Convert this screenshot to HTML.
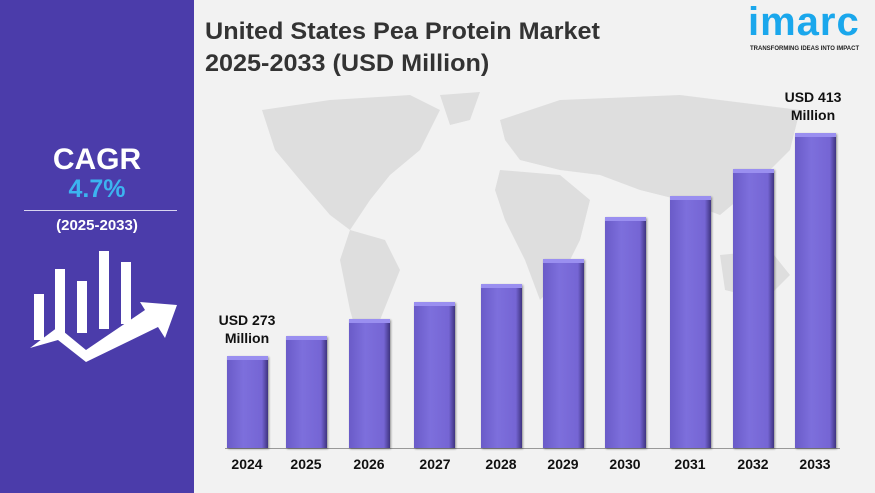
<!DOCTYPE html><html><head><style>
body{margin:0;width:875px;height:493px;overflow:hidden;background:#f2f2f2;font-family:"Liberation Sans",Arial,sans-serif;position:relative}
.l{position:absolute;left:0;top:0;width:194px;height:493px;background:#4b3caa}
.t{position:absolute;font-weight:bold}
.bar{position:absolute;width:41px;background:linear-gradient(90deg,#6a5bc8,#7d6fdc 40%,#7565d4 85%,#3f3480);border-top:4px solid #9a8ff0;box-shadow:1px 1px 2px rgba(0,0,0,.4)}
.y{position:absolute;top:456px;font-size:14px;font-weight:bold;color:#111;width:50px;text-align:center}
</style></head><body>
<div class="l"></div>
<div class="t" style="left:0;width:194px;text-align:center;top:143px;color:#fff;font-size:30px">CAGR</div>
<div class="t" style="left:0;width:194px;text-align:center;top:175px;color:#3cb4f0;font-size:25px">4.7%</div>
<div style="position:absolute;left:24px;top:210px;width:153px;height:1px;background:#d8d4f0"></div>
<div class="t" style="left:0;width:194px;text-align:center;top:217px;color:#fff;font-size:15px">(2025-2033)</div>
<svg style="position:absolute;left:0;top:0" width="194" height="493">
<g fill="#fff"><rect x="34" y="294" width="10" height="46"/><rect x="55" y="269" width="10" height="68"/><rect x="77" y="281" width="10" height="52"/><rect x="99" y="251" width="10" height="78"/><rect x="121" y="262" width="10" height="62"/>
<polygon points="30,348 58,327 86,350 145,310 140,302 177,305 165,338 158,327 86,362 58,340"/></g></svg>
<div class="t" style="left:205px;top:16px;font-size:24px;color:#333;line-height:32px;transform:scaleX(1.05);transform-origin:left">United States Pea Protein Market<br>2025-2033 (USD Million)</div>
<svg style="position:absolute;left:0;top:0" width="875" height="493"><g fill="#dedede">
<path d="M262,110 L330,100 L410,95 L440,110 L420,150 L390,175 L370,200 L350,230 L330,215 L300,180 L275,150 Z"/>
<path d="M350,230 L385,240 L400,270 L380,320 L360,345 L350,310 L340,260 Z"/>
<path d="M440,95 L480,92 L470,120 L450,125 Z"/>
<path d="M500,120 L560,100 L680,95 L800,110 L790,150 L750,190 L720,215 L680,200 L640,190 L600,175 L560,170 L520,160 L505,140 Z"/>
<path d="M500,170 L560,175 L590,200 L580,240 L560,280 L540,300 L525,260 L505,220 L495,190 Z"/>
<path d="M720,255 L770,250 L790,275 L765,300 L725,290 Z"/>
</g></svg>
<div class="t" style="left:748px;top:0px;font-size:40px;color:#1aa7ec;letter-spacing:1px">imarc</div>
<div class="t" style="left:750px;top:46px;font-size:6px;color:#222">TRANSFORMING IDEAS INTO IMPACT</div>
<div style="position:absolute;left:225px;top:448px;width:615px;height:1px;background:#999"></div>
<div class="bar" style="left:227px;top:356px;height:88px"></div>
<div class="bar" style="left:286px;top:336px;height:108px"></div>
<div class="bar" style="left:349px;top:319px;height:125px"></div>
<div class="bar" style="left:414px;top:302px;height:142px"></div>
<div class="bar" style="left:481px;top:284px;height:160px"></div>
<div class="bar" style="left:543px;top:259px;height:185px"></div>
<div class="bar" style="left:605px;top:217px;height:227px"></div>
<div class="bar" style="left:670px;top:196px;height:248px"></div>
<div class="bar" style="left:733px;top:169px;height:275px"></div>
<div class="bar" style="left:795px;top:133px;height:311px"></div>
<div class="y" style="left:222px">2024</div><div class="y" style="left:281px">2025</div><div class="y" style="left:344px">2026</div><div class="y" style="left:410px">2027</div><div class="y" style="left:476px">2028</div><div class="y" style="left:538px">2029</div><div class="y" style="left:600px">2030</div><div class="y" style="left:665px">2031</div><div class="y" style="left:728px">2032</div><div class="y" style="left:790px">2033</div>
<div class="t" style="left:207px;width:80px;text-align:center;top:311px;font-size:14px;color:#111;line-height:18px">USD 273<br>Million</div>
<div class="t" style="left:773px;width:80px;text-align:center;top:88px;font-size:14px;color:#111;line-height:18px">USD 413<br>Million</div>
</body></html>
